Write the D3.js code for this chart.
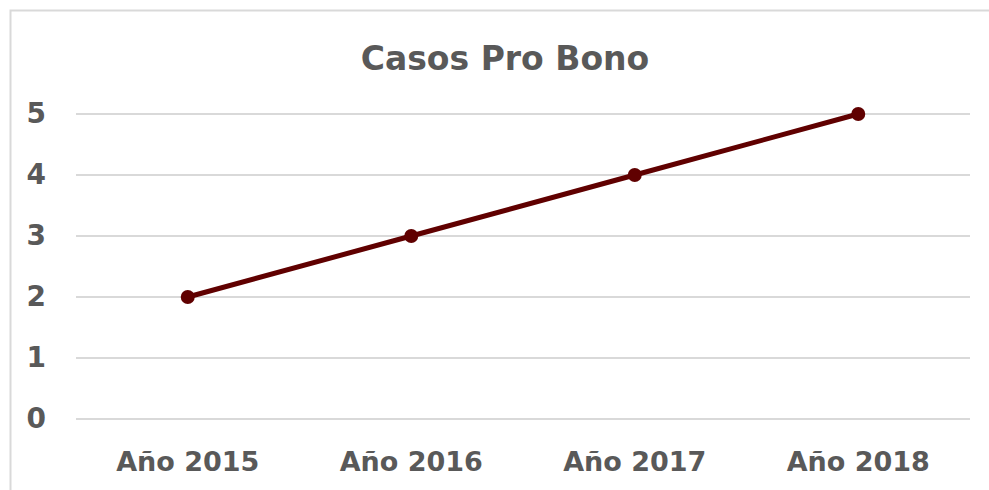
<!DOCTYPE html>
<html>
<head>
<meta charset="utf-8">
<script src="https://cdn.jsdelivr.net/npm/d3@7"></script>
<style>
  body { margin: 0; background: #fff; }
  text { font-family: "DejaVu Sans", sans-serif; font-weight: bold; fill: #595959; }
</style>
</head>
<body>
<div id="chart"></div>
<script>
const categories = ["Año 2015", "Año 2016", "Año 2017", "Año 2018"];
const values = [2, 3, 4, 5];
const yTicks = [0, 1, 2, 3, 4, 5];
const title = "Casos Pro Bono";

const width = 989;
const height = 490;
const margin = { top: 114, right: 19, bottom: 71, left: 76 };

const svg = d3.select("#chart").append("svg")
  .attr("width", width)
  .attr("height", height);

// outer chart frame, runs off the right/bottom edge like the source
svg.append("rect")
  .attr("x", 10.5).attr("y", 10.5)
  .attr("width", width).attr("height", height)
  .attr("fill", "none")
  .attr("stroke", "#d9d9d9")
  .attr("stroke-width", 2);

const x = d3.scaleBand()
  .domain(categories)
  .range([margin.left, width - margin.right]);

const y = d3.scaleLinear()
  .domain([0, 5])
  .range([height - margin.bottom, margin.top]);

// gridlines
svg.append("g")
  .selectAll("line")
  .data(yTicks)
  .join("line")
  .attr("x1", margin.left)
  .attr("x2", width - margin.right)
  .attr("y1", d => y(d))
  .attr("y2", d => y(d))
  .attr("stroke", "#d9d9d9")
  .attr("stroke-width", 2);

// y axis labels
const yAxis = svg.append("g")
  .attr("transform", `translate(${margin.left},0)`)
  .call(d3.axisLeft(y).tickValues(yTicks).tickFormat(d3.format("d")).tickSize(0).tickPadding(30));
yAxis.select(".domain").remove();
yAxis.selectAll("text")
  .attr("font-size", 28)
  .attr("font-family", null)
  .attr("fill", null);

// x axis labels
const xAxis = svg.append("g")
  .attr("transform", `translate(0,${height - margin.bottom})`)
  .call(d3.axisBottom(x).tickSize(0).tickPadding(33));
xAxis.select(".domain").remove();
xAxis.selectAll("text")
  .attr("font-size", 27)
  .attr("font-family", null)
  .attr("fill", null);

svg.append("text")
  .attr("x", 505)
  .attr("y", 70)
  .attr("text-anchor", "middle")
  .attr("font-size", 33)
  .text(title);

const line = d3.line()
  .x((d, i) => x(categories[i]) + x.bandwidth() / 2)
  .y(d => y(d));

svg.append("path")
  .datum(values)
  .attr("d", line)
  .attr("fill", "none")
  .attr("stroke", "#600000")
  .attr("stroke-width", 5)
  .attr("stroke-linecap", "round");

svg.append("g")
  .selectAll("circle")
  .data(values)
  .join("circle")
  .attr("cx", (d, i) => x(categories[i]) + x.bandwidth() / 2)
  .attr("cy", d => y(d))
  .attr("r", 7)
  .attr("fill", "#600000");
</script>
</body>
</html>
